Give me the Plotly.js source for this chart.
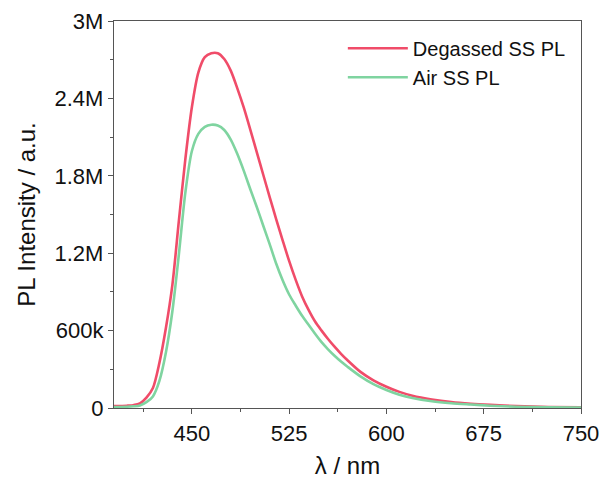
<!DOCTYPE html>
<html><head><meta charset="utf-8">
<script src="https://cdn.plot.ly/plotly-3.0.1.min.js"></script>
<style>html,body{margin:0;padding:0;background:#fff}#chart{width:603px;height:479px}</style>
</head><body><div id="chart"></div>
<script>
const wavelength = [390, 400, 405, 410, 415, 420, 425, 430, 435, 440, 445, 450, 455, 460, 465, 470, 475, 480, 485, 490, 495, 500, 505, 510, 515, 520, 525, 530, 535, 540, 545, 550, 555, 560, 565, 570, 580, 590, 600, 610, 620, 635, 650, 665, 680, 700, 725, 750];
const degassed = [0.015, 0.018, 0.022, 0.035, 0.08, 0.155, 0.35, 0.62, 0.955, 1.45, 1.93, 2.33, 2.6, 2.72, 2.75, 2.75, 2.705, 2.615, 2.48, 2.33, 2.16, 1.985, 1.81, 1.635, 1.465, 1.3, 1.14, 0.995, 0.865, 0.76, 0.67, 0.6, 0.535, 0.475, 0.42, 0.37, 0.28, 0.215, 0.165, 0.125, 0.095, 0.066, 0.046, 0.033, 0.024, 0.015, 0.008, 0.005];
const air = [0.008, 0.01, 0.013, 0.02, 0.045, 0.09, 0.21, 0.43, 0.75, 1.19, 1.67, 1.99, 2.125, 2.18, 2.196, 2.19, 2.155, 2.08, 1.97, 1.84, 1.698, 1.56, 1.415, 1.27, 1.12, 0.99, 0.88, 0.795, 0.715, 0.645, 0.575, 0.51, 0.455, 0.405, 0.36, 0.32, 0.245, 0.185, 0.14, 0.103, 0.077, 0.052, 0.037, 0.027, 0.018, 0.01, 0.005, 0.003];
const seriesNames = ["Degassed SS PL", "Air SS PL"];
const xTicks = [450, 525, 600, 675, 750];
const yTickVals = [0, 600000, 1200000, 1800000, 2400000, 3000000];
const yTickText = ["0", "600k", "1.2M", "1.8M", "2.4M", "3M"];

const fnt = {family: "Liberation Sans, Arial, sans-serif", color: "#111"};
const traces = [
  {x: wavelength, y: degassed.map(v => v * 1e6), name: seriesNames[0], mode: "lines",
   line: {color: "#f04c69", width: 2.6, shape: "spline", smoothing: 0.8}},
  {x: wavelength, y: air.map(v => v * 1e6), name: seriesNames[1], mode: "lines",
   line: {color: "#7fd4a0", width: 2.6, shape: "spline", smoothing: 0.8}}
];
const layout = {
  width: 603, height: 479,
  margin: {l: 114, r: 22, t: 21, b: 71},
  paper_bgcolor: "#fff", plot_bgcolor: "#fff",
  showlegend: true,
  legend: {x: 0.49, y: 0.98, xanchor: "left", yanchor: "top", bgcolor: "rgba(0,0,0,0)",
           font: {...fnt, size: 20}, tracegroupgap: 0, itemwidth: 60},
  xaxis: {range: [390, 750], tickvals: xTicks, ticks: "outside", ticklen: 5, tickcolor: "#555",
          showline: true, linecolor: "#555", linewidth: 1.2, mirror: true, showgrid: false, zeroline: false,
          tickfont: {...fnt, size: 22},
          minor: {tickvals: [412.5, 487.5, 562.5, 637.5, 712.5], ticks: "outside", ticklen: 3, tickcolor: "#555"},
          title: {text: "λ / nm", font: {...fnt, size: 24}, standoff: 12}},
  yaxis: {range: [0, 3000000], tickvals: yTickVals, ticktext: yTickText, ticks: "outside", ticklen: 5, tickcolor: "#555",
          showline: true, linecolor: "#555", linewidth: 1.2, mirror: true, showgrid: false, zeroline: false,
          tickfont: {...fnt, size: 22},
          minor: {tickvals: [300000, 900000, 1500000, 2100000, 2700000], ticks: "outside", ticklen: 3, tickcolor: "#555"},
          title: {text: "PL Intensity / a.u.", font: {...fnt, size: 24}, standoff: 12}}
};
Plotly.newPlot("chart", traces, layout, {displayModeBar: false, staticPlot: true});
</script></body></html>
